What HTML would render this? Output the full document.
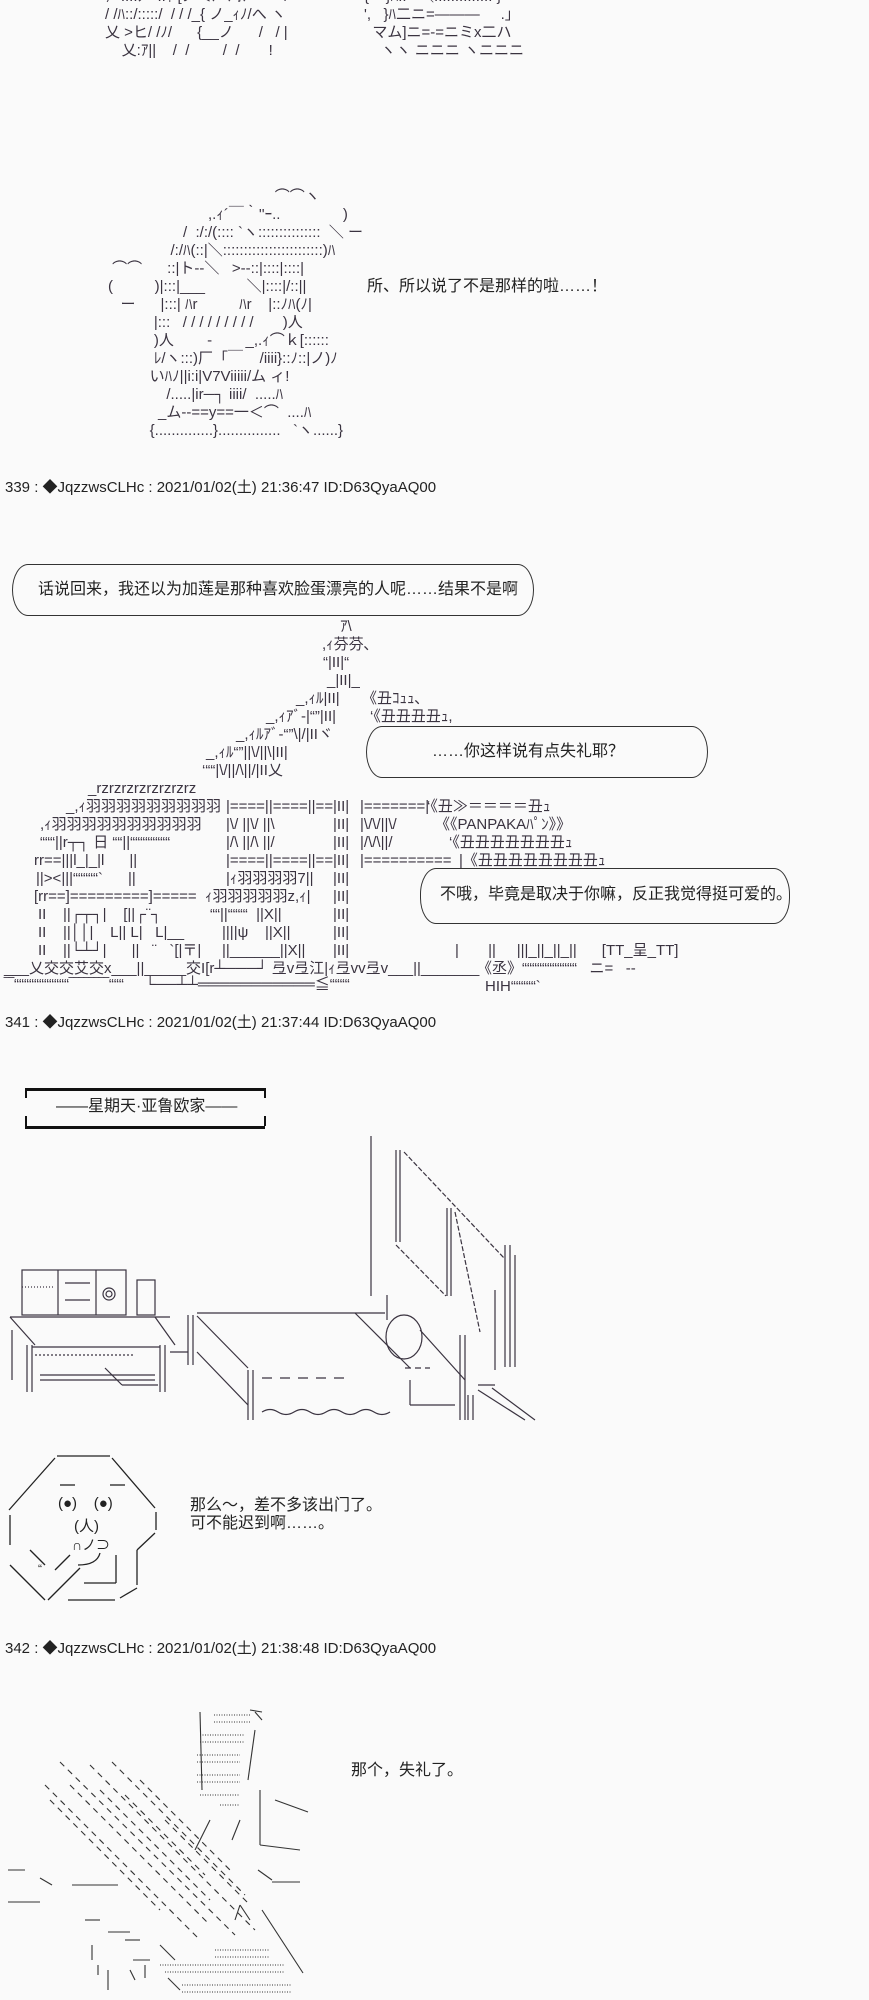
<!DOCTYPE html>
<html><head><meta charset="utf-8">
<style>
html,body{margin:0;padding:0;background:#fafafa;}
body{width:869px;height:2000px;position:relative;overflow:hidden;font-family:"Liberation Sans","Noto Sans CJK SC",sans-serif;color:#222;}
.a{position:absolute;white-space:pre;font-family:"Liberation Sans","Noto Sans CJK JP",sans-serif;font-size:15px;line-height:18px;color:#3a3340;}
.t{position:absolute;white-space:pre;font-size:16px;line-height:18px;color:#222;font-family:"Liberation Sans","Noto Sans CJK SC",sans-serif;}
.ts{position:absolute;left:5px;font-size:15px;white-space:pre;color:#222;}
.bub{position:absolute;border:1.5px solid #333;border-radius:16px/26px;}
svg{position:absolute;left:0;}
</style></head><body>

<div class="a" style="left:105px;top:-12px;">ｧ  ..::ｼ   ..ｨ [ノ＜ﾉ  ﾉｵﾉ    ヾ\
/ /ﾊ::/:::::/  / / /_{ ノ_ｨﾉ/へ ヽ
乂 >ヒ/ /ﾉ/      {__ノ      /   / |
    乂:ｱ||    /  /        /  /       !</div>
<div class="a" style="left:364px;top:-12px;">{    }ﾊ::   ＼:::::::::::::: }
',   }ﾊ二ニ=―――     .」
  マム]ニ=-=ニミx二ハ
    ヽヽ ニニニ ヽニニニ</div>

<div class="a" style="left:108px;top:188px;">                                        ⌒⌒ヽ
                        ,.ｨ´￣｀''ｰ..               )
                  /  :/:/(:::: `ヽ:::::::::::::::  ＼ ー
               /:/ﾊ(::|＼::::::::::::::::::::::::)ﾊ
 ⌒⌒      ::|ト--＼   >--::|::::|::::|
(          )|:::|___          ＼|::::|/::||
   ー      |:::| ﾊr          ﾊr    |::ﾉﾊ(ﾉ|
           |:::   / / / / / / / / /       )人
           )人        ‐        _,.ｨ⌒ｋ[::::::
           ﾚ/ヽ:::)厂「￣    /iiii}::ﾉ::|ノ)ﾉ
          いﾊﾉ||i:i|V7Viiiii/ム ィ!
              /.....|ir─┐ iiii/  .....ﾊ
            _ム--==y==一＜⌒  ....ﾊ
          {..............}...............   `ヽ......}</div>
<div class="t" style="left:367px;top:278px;">所、所以说了不是那样的啦……！</div>

<div class="ts" style="top:476px;">339 : ◆JqzzwsCLHc : 2021/01/02(土) 21:36:47 ID:D63QyaAQ00</div>

<div class="bub" style="left:12px;top:564px;width:520px;height:50px;"></div>
<div class="t" style="left:38px;top:581px;">话说回来，我还以为加莲是那种喜欢脸蛋漂亮的人呢……结果不是啊</div>

<div class="a" style="left:340px;top:618px;">ｱ\</div>
<div class="a" style="left:322px;top:636px;">,ｨ芬芬､</div>
<div class="a" style="left:323px;top:654px;">“|II|“</div>
<div class="a" style="left:327px;top:672px;">_|II|_</div>
<div class="a" style="left:296px;top:690px;">_,ｨﾙ|II|</div>
<div class="a" style="left:362px;top:690px;">《丑ｺｭｭ､</div>
<div class="a" style="left:266px;top:708px;">_,ｨｱﾞ-|“”|II|</div>
<div class="a" style="left:370px;top:708px;">‘《丑丑丑丑ｭ,</div>
<div class="a" style="left:236px;top:726px;">_,ｨﾙｱﾞ-“”\|/|IIヾ</div>
<div class="a" style="left:206px;top:744px;">_,ｨﾙ“”||\/||\|II|</div>
<div class="a" style="left:202px;top:762px;">‘““|\/||/\||/|II乂</div>
<div class="a" style="left:88px;top:780px;">_rzrzrzrzrzrzrzrz</div>
<div class="a" style="left:333px;top:798px;">|II|
|II|
|II|
|II|
|II|
|II|
|II|
|II|
|II|</div>
<div class="a" style="left:66px;top:798px;">_,ｨ羽羽羽羽羽羽羽羽羽</div>
<div class="a" style="left:40px;top:816px;">,ｨ羽羽羽羽羽羽羽羽羽羽</div>
<div class="a" style="left:40px;top:834px;">“““||r┬┐ 日 ““||““““““““</div>
<div class="a" style="left:34px;top:852px;">rr==|||l_|_|l      ||</div>
<div class="a" style="left:36px;top:870px;">||><|||“““““`      ||</div>
<div class="a" style="left:34px;top:888px;">[rr==]=========]=====</div>
<div class="a" style="left:38px;top:906px;">II    ||┌┬┐|    [||┌¨┐</div>
<div class="a" style="left:38px;top:924px;">II    ||││|    L|| L|   L|__</div>
<div class="a" style="left:38px;top:942px;">II    ||└┴┘|      ||   ¨   `[|〒|</div>
<div class="a" style="left:226px;top:798px;">|====||====||==</div>
<div class="a" style="left:226px;top:816px;">|\/ ||\/ ||\</div>
<div class="a" style="left:226px;top:834px;">|/\ ||/\ ||/</div>
<div class="a" style="left:226px;top:852px;">|====||====||==</div>
<div class="a" style="left:226px;top:870px;">|ｨ羽羽羽羽7||</div>
<div class="a" style="left:205px;top:888px;">ｨ羽羽羽羽羽z,ｨ|</div>
<div class="a" style="left:210px;top:906px;">““||““““  ||X||</div>
<div class="a" style="left:222px;top:924px;">||||ψ    ||X||</div>
<div class="a" style="left:222px;top:942px;">||______||X||</div>
<div class="a" style="left:360px;top:798px;">|=======|</div>
<div class="a" style="left:427px;top:798px;">‘《丑≫＝＝＝＝丑ｭ</div>
<div class="a" style="left:360px;top:816px;">|\/\/||\/</div>
<div class="a" style="left:435px;top:816px;">《《PANPAKAﾊﾟﾝ》》</div>
<div class="a" style="left:360px;top:834px;">|/\/\||/</div>
<div class="a" style="left:449px;top:834px;">‘《丑丑丑丑丑丑丑ｭ</div>
<div class="a" style="left:360px;top:852px;">|==========</div>
<div class="a" style="left:459px;top:852px;">|《丑丑丑丑丑丑丑丑ｭ</div>
<div class="a" style="left:455px;top:870px;">||“““`〈››››››››≪“</div>
<div class="a" style="left:455px;top:942px;">|       ||     |||_||_||_||      [TT_呈_TT]</div>
<div class="a" style="left:4px;top:960px;">___乂交交艾交x___||_____交I[r┴───┘ 弖v弖江|ｨ弖vv弖v___||_______</div>
<div class="a" style="left:477px;top:960px;">《丞》“““““““““““   ニ=   --</div>
<div class="a" style="left:4px;top:976px;">‾‾“““““““““““‾‾‾‾‾‾‾‾“““     └──┴┴═══════════≦““““</div>
<div class="a" style="left:485px;top:978px;">HIH“““““`</div>

<div class="bub" style="left:366px;top:726px;width:340px;height:50px;background:#fafafa;"></div>
<div class="t" style="left:432px;top:743px;">……你这样说有点失礼耶？</div>

<div class="bub" style="left:420px;top:868px;width:368px;height:54px;background:#fafafa;"></div>
<div class="t" style="left:440px;top:886px;">不哦，毕竟是取决于你嘛，反正我觉得挺可爱的。</div>

<div class="ts" style="top:1011px;">341 : ◆JqzzwsCLHc : 2021/01/02(土) 21:37:44 ID:D63QyaAQ00</div>

<div style="position:absolute;left:25px;top:1088px;width:240px;height:35px;border-top:3px solid #111;border-bottom:3px solid #111;"></div>
<div style="position:absolute;left:25px;top:1088px;width:2px;height:10px;background:#111"></div>
<div style="position:absolute;left:25px;top:1116px;width:2px;height:10px;background:#111"></div>
<div style="position:absolute;left:264px;top:1088px;width:2px;height:10px;background:#111"></div>
<div style="position:absolute;left:264px;top:1116px;width:2px;height:10px;background:#111"></div>
<div class="t" style="left:56px;top:1098px;">――星期天·亚鲁欧家――</div>

<svg width="869" height="2000" style="top:0" viewBox="0 0 869 2000">
<g stroke="#3a3340" stroke-width="1.2" fill="none">
<line x1="371" y1="1136" x2="371" y2="1296"/>
<line x1="396" y1="1150" x2="396" y2="1242"/><line x1="400" y1="1150" x2="400" y2="1242"/>
<line x1="404" y1="1152" x2="504" y2="1258" stroke-dasharray="5 2"/>
<line x1="396" y1="1245" x2="446" y2="1296" stroke-dasharray="5 2"/>
<line x1="447" y1="1208" x2="447" y2="1296"/><line x1="451" y1="1208" x2="451" y2="1296"/>
<line x1="455" y1="1212" x2="480" y2="1332" stroke-dasharray="5 2"/>
<line x1="505" y1="1245" x2="505" y2="1367"/><line x1="510" y1="1245" x2="510" y2="1367"/><line x1="515" y1="1255" x2="515" y2="1367"/>
<line x1="495" y1="1290" x2="495" y2="1370"/>
<rect x="22" y="1270" width="104" height="45"/>
<line x1="58" y1="1270" x2="58" y2="1315"/><line x1="96" y1="1270" x2="96" y2="1315"/>
<line x1="65" y1="1283" x2="90" y2="1283"/><line x1="65" y1="1300" x2="90" y2="1300"/>
<circle cx="109" cy="1294" r="6"/><circle cx="109" cy="1294" r="3"/>
<rect x="137" y="1280" width="18" height="35"/>
<line x1="22" y1="1287" x2="55" y2="1287" stroke-dasharray="1 2"/>
<line x1="10" y1="1317" x2="170" y2="1317"/>
<line x1="10" y1="1317" x2="35" y2="1345"/><line x1="155" y1="1317" x2="175" y2="1345"/>
<line x1="32" y1="1347" x2="160" y2="1347"/>
<line x1="35" y1="1355" x2="135" y2="1355" stroke-dasharray="2 2"/>
<line x1="40" y1="1375" x2="155" y2="1375"/><line x1="40" y1="1380" x2="155" y2="1380"/>
<line x1="12" y1="1330" x2="12" y2="1380"/><line x1="27" y1="1345" x2="27" y2="1392"/><line x1="32" y1="1345" x2="32" y2="1392"/>
<line x1="160" y1="1345" x2="160" y2="1392"/><line x1="165" y1="1345" x2="165" y2="1392"/>
<line x1="105" y1="1368" x2="122" y2="1385"/><line x1="122" y1="1385" x2="158" y2="1385"/>
<line x1="170" y1="1352" x2="188" y2="1352"/>
<line x1="188" y1="1315" x2="188" y2="1365"/><line x1="193" y1="1315" x2="193" y2="1365"/>
<line x1="197" y1="1313" x2="385" y2="1313"/>
<line x1="197" y1="1316" x2="248" y2="1368"/><line x1="197" y1="1352" x2="248" y2="1405"/>
<line x1="248" y1="1370" x2="248" y2="1420"/><line x1="253" y1="1370" x2="253" y2="1420"/>
<line x1="262" y1="1378" x2="350" y2="1378" stroke-dasharray="10 8"/>
<path d="M262 1412 q8 -5 16 0 t16 0 t16 0 t16 0 t16 0 t16 0 t16 0 t16 0"/>
<line x1="355" y1="1313" x2="410" y2="1368"/><line x1="405" y1="1368" x2="430" y2="1368" stroke-dasharray="6 4"/>
<line x1="387" y1="1295" x2="387" y2="1320"/>
<ellipse cx="404" cy="1337" rx="18" ry="22"/>
<line x1="420" y1="1330" x2="465" y2="1380"/>
<line x1="410" y1="1380" x2="410" y2="1405"/><line x1="410" y1="1405" x2="455" y2="1405"/>
<line x1="460" y1="1335" x2="460" y2="1420"/><line x1="465" y1="1335" x2="465" y2="1420"/>
<line x1="478" y1="1385" x2="495" y2="1385"/>
<line x1="478" y1="1390" x2="525" y2="1420"/><line x1="492" y1="1388" x2="535" y2="1420"/>
<line x1="468" y1="1395" x2="468" y2="1420"/><line x1="473" y1="1395" x2="473" y2="1420"/>
</g>
<g stroke="#222" stroke-width="1.3" fill="none">
<line x1="57" y1="1456" x2="110" y2="1456"/>
<line x1="55" y1="1458" x2="9" y2="1510"/><line x1="112" y1="1458" x2="155" y2="1508"/>
<line x1="10" y1="1515" x2="10" y2="1545"/><line x1="156" y1="1512" x2="156" y2="1530"/>
<line x1="155" y1="1533" x2="137" y2="1550"/><line x1="137" y1="1550" x2="137" y2="1585"/>
<line x1="116" y1="1555" x2="116" y2="1583"/><line x1="84" y1="1583" x2="116" y2="1583"/>
<line x1="10" y1="1565" x2="45" y2="1600"/><line x1="68" y1="1600" x2="115" y2="1600"/><line x1="120" y1="1598" x2="137" y2="1588"/>
<line x1="30" y1="1550" x2="45" y2="1565"/><line x1="70" y1="1555" x2="55" y2="1570"/>
<line x1="80" y1="1568" x2="48" y2="1600"/>
<path d="M100 1553 q-3 12 -22 12"/>
<line x1="60" y1="1485" x2="75" y2="1485"/><line x1="110" y1="1485" x2="125" y2="1485"/>
</g>
<g stroke="#333" stroke-width="1.1" fill="none">
<line x1="200" y1="1712" x2="202" y2="1790"/>
<line x1="214" y1="1715" x2="250" y2="1715" stroke-dasharray="1 1.5"/>
<line x1="214" y1="1722" x2="250" y2="1722" stroke-dasharray="1 1.5"/>
<line x1="200" y1="1735" x2="245" y2="1735" stroke-dasharray="1 1.5"/>
<line x1="200" y1="1742" x2="245" y2="1742" stroke-dasharray="1 1.5"/>
<line x1="197" y1="1755" x2="240" y2="1755" stroke-dasharray="1 1.5"/>
<line x1="197" y1="1762" x2="240" y2="1762" stroke-dasharray="1 1.5"/>
<line x1="197" y1="1775" x2="240" y2="1775" stroke-dasharray="1 1.5"/>
<line x1="197" y1="1782" x2="240" y2="1782" stroke-dasharray="1 1.5"/>
<line x1="200" y1="1795" x2="240" y2="1795" stroke-dasharray="1 1.5"/>
<line x1="220" y1="1805" x2="240" y2="1805" stroke-dasharray="1 1.5"/>
<line x1="250" y1="1710" x2="262" y2="1712"/><line x1="255" y1="1712" x2="262" y2="1720"/>
<line x1="255" y1="1730" x2="248" y2="1780"/><line x1="240" y1="1820" x2="232" y2="1840"/><line x1="210" y1="1820" x2="195" y2="1850"/>
<line x1="260" y1="1790" x2="260" y2="1845"/><line x1="260" y1="1845" x2="300" y2="1850"/>
<line x1="275" y1="1800" x2="308" y2="1812"/>
<line x1="258" y1="1870" x2="272" y2="1880"/><line x1="272" y1="1882" x2="300" y2="1882"/>
<line x1="262" y1="1910" x2="303" y2="1973"/>
<g stroke-dasharray="6 5">
<line x1="60" y1="1762" x2="235" y2="1935"/>
<line x1="45" y1="1785" x2="200" y2="1940"/>
<line x1="90" y1="1765" x2="255" y2="1930"/>
<line x1="112" y1="1762" x2="245" y2="1895"/>
<line x1="70" y1="1785" x2="210" y2="1925"/>
<line x1="100" y1="1790" x2="210" y2="1900"/>
<line x1="125" y1="1795" x2="205" y2="1875"/>
<line x1="140" y1="1780" x2="230" y2="1870"/>
<line x1="50" y1="1800" x2="160" y2="1910"/>
<line x1="165" y1="1820" x2="250" y2="1905"/>
</g>
<line x1="8" y1="1870" x2="25" y2="1870"/><line x1="40" y1="1878" x2="52" y2="1885"/>
<line x1="72" y1="1885" x2="118" y2="1885"/><line x1="8" y1="1902" x2="40" y2="1902"/>
<line x1="85" y1="1920" x2="100" y2="1920"/><line x1="108" y1="1932" x2="130" y2="1932"/>
<line x1="92" y1="1945" x2="92" y2="1960"/><line x1="133" y1="1960" x2="150" y2="1960"/>
<line x1="125" y1="1940" x2="140" y2="1940"/>
<line x1="160" y1="1945" x2="175" y2="1960"/>
<line x1="160" y1="1965" x2="285" y2="1965" stroke-dasharray="1 1.5"/>
<line x1="165" y1="1972" x2="285" y2="1972" stroke-dasharray="1 1.5"/>
<line x1="182" y1="1985" x2="292" y2="1985" stroke-dasharray="1 1.5"/>
<line x1="182" y1="1992" x2="292" y2="1992" stroke-dasharray="1 1.5"/>
<line x1="215" y1="1950" x2="270" y2="1950" stroke-dasharray="1 1.5"/>
<line x1="215" y1="1957" x2="270" y2="1957" stroke-dasharray="1 1.5"/>
<line x1="168" y1="1978" x2="180" y2="1990"/>
<line x1="108" y1="1970" x2="108" y2="1990"/><line x1="98" y1="1965" x2="98" y2="1975"/>
<line x1="145" y1="1965" x2="145" y2="1978"/><line x1="130" y1="1970" x2="135" y2="1980"/>
<line x1="240" y1="1905" x2="235" y2="1920"/><line x1="240" y1="1905" x2="250" y2="1920"/>
</g>
</svg>

<div class="t" style="left:58px;top:1495px;font-size:15px;">(●)&nbsp;&nbsp;&nbsp;&nbsp;(●)</div>
<div class="t" style="left:74px;top:1518px;font-size:15px;">(人)</div>
<div class="t" style="left:72px;top:1536px;font-size:14px;">∩ノ⊃</div>
<div class="t" style="left:38px;top:1560px;font-size:12px;">“</div>
<div class="t" style="left:190px;top:1497px;">那么～，差不多该出门了。
可不能迟到啊……。</div>

<div class="ts" style="top:1637px;">342 : ◆JqzzwsCLHc : 2021/01/02(土) 21:38:48 ID:D63QyaAQ00</div>

<div class="t" style="left:351px;top:1762px;">那个，失礼了。</div>

</body></html>
